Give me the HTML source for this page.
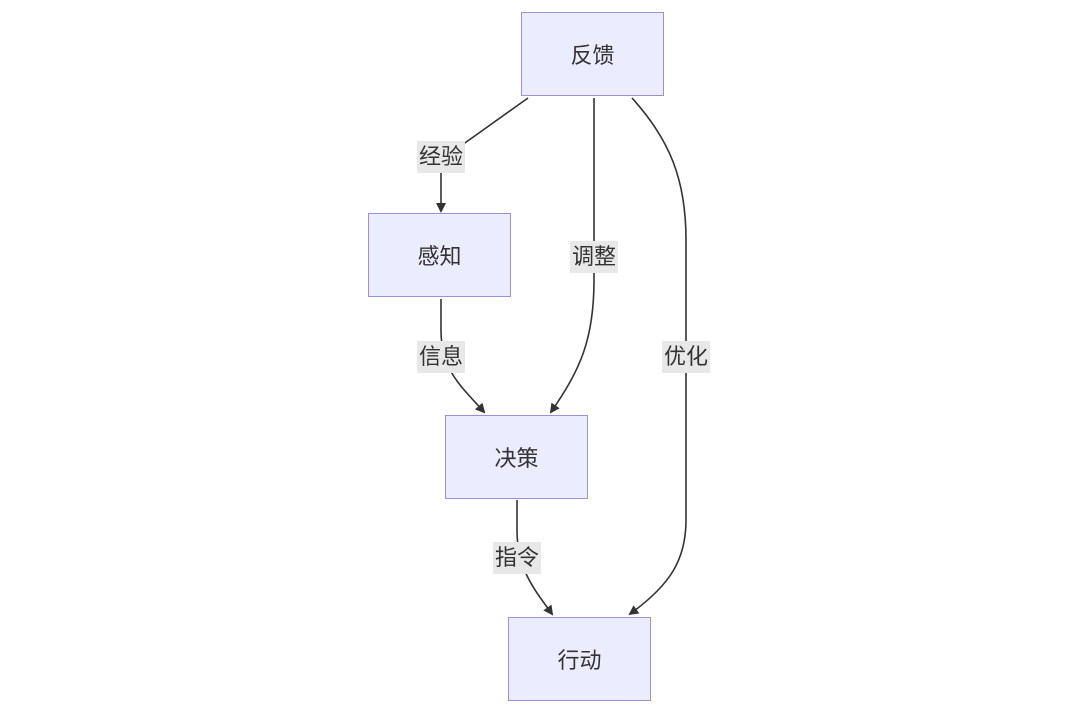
<!DOCTYPE html>
<html><head><meta charset="utf-8"><style>
html,body{margin:0;padding:0;background:#fff;}
body{width:1080px;height:715px;position:relative;overflow:hidden;font-family:"Liberation Sans","Noto Sans CJK SC",sans-serif;}
.n{position:absolute;width:143px;height:84px;background:#ececff;border:1.5px solid #9e8fd6;box-sizing:border-box;display:flex;align-items:center;justify-content:center;font-size:22px;color:#333;}
.l{position:absolute;background:#e8e8e8;font-size:22px;color:#333;line-height:32px;padding:0 2px;transform:translate(-50%,-50%);}
</style></head><body>
<svg width="1080" height="715" style="position:absolute;left:0;top:0">
<defs><marker id="a" markerWidth="10" markerHeight="10" refX="8" refY="5" orient="auto" markerUnits="userSpaceOnUse"><path d="M0,0 L10,5 L0,10 z" fill="#333"/></marker></defs>
<g fill="none" stroke="#333" stroke-width="1.6">
<path d="M528,98 L441,160 L441,211" marker-end="url(#a)"/>
<path d="M594,98 L594,280 C594,340 580,370 551,412" marker-end="url(#a)"/>
<path d="M632,98 C670,140 686,180 686,240 L686,520 C686,560 670,585 630,614" marker-end="url(#a)"/>
<path d="M441,299 L441,330 C441,370 460,385 484,412" marker-end="url(#a)"/>
<path d="M517,500 L517,530 C517,570 535,590 552,614" marker-end="url(#a)"/>
</g></svg>
<div class="n" style="left:521px;top:12px">反馈</div>
<div class="n" style="left:368px;top:213px">感知</div>
<div class="n" style="left:445px;top:415px">决策</div>
<div class="n" style="left:508px;top:617px">行动</div>
<div class="l" style="left:441px;top:157px">经验</div>
<div class="l" style="left:594px;top:257px">调整</div>
<div class="l" style="left:686px;top:357px">优化</div>
<div class="l" style="left:441px;top:357px">信息</div>
<div class="l" style="left:517px;top:558px">指令</div>
</body></html>
